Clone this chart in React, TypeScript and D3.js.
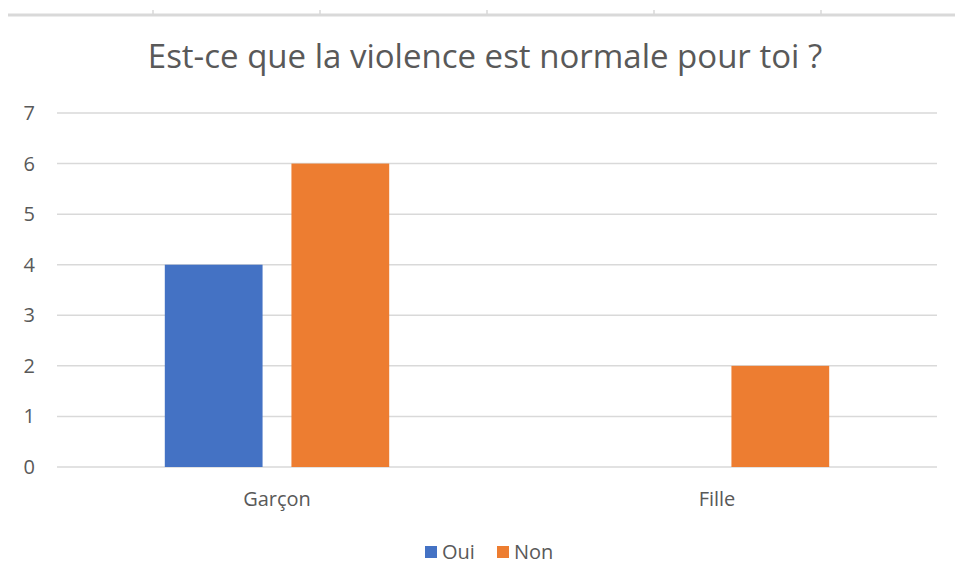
import { useEffect, useRef } from 'react';
import * as d3 from 'd3';

const categories = ['Garçon', 'Fille'];
const seriesNames = ['Oui', 'Non'];
const seriesColors = ['#4472C4', '#ED7D31'];
const oui = [4, 0];
const non = [6, 2];
const yTicks = [0, 1, 2, 3, 4, 5, 6, 7];
const topTicks = [1, 2, 3, 4, 5];

const W = 955;
const H = 588;
const FONT = '"Open Sans", "Noto Sans", sans-serif';

export default function App() {
  const svgRef = useRef<SVGSVGElement | null>(null);

  useEffect(() => {
    const svg = d3.select(svgRef.current);
    svg.selectAll('*').remove();

    // bande grise en haut (bord du graphique précédent)
    const topX = d3.scaleLinear().domain([0, 6]).range([153 - 167, 153 + 167 * 5]);
    svg.append('line')
      .attr('x1', 8).attr('x2', W).attr('y1', 15).attr('y2', 15)
      .attr('stroke', '#d9d9d9').attr('stroke-width', 3);
    svg.selectAll('.tt').data(topTicks).enter().append('line')
      .attr('x1', d => topX(d)).attr('x2', d => topX(d))
      .attr('y1', 10).attr('y2', 14)
      .attr('stroke', '#d9d9d9').attr('stroke-width', 1.5);

    // titre
    svg.append('text')
      .attr('x', 485).attr('y', 68)
      .attr('text-anchor', 'middle')
      .attr('font-family', FONT).attr('font-size', 33)
      .attr('fill', '#595959')
      .text('Est-ce que la violence est normale pour toi ?');

    const left = 57, right = 937, top = 113, bottom = 467;

    const y = d3.scaleLinear().domain([0, 7]).range([bottom, top]);
    const x0 = d3.scaleBand().domain(categories).range([left, right]).paddingInner(0.49).paddingOuter(0.245);
    const x1 = d3.scaleBand().domain(seriesNames).range([0, x0.bandwidth()]).paddingInner(0.228);

    // grille
    svg.selectAll('.grid').data(yTicks).enter().append('line')
      .attr('x1', left).attr('x2', right)
      .attr('y1', d => y(d)).attr('y2', d => y(d))
      .attr('stroke', '#d9d9d9').attr('stroke-width', 1.5);

    // étiquettes Y
    svg.selectAll('.yl').data(yTicks).enter().append('text')
      .attr('x', 35).attr('y', d => y(d) + 7)
      .attr('text-anchor', 'end')
      .attr('font-family', FONT).attr('font-size', 20)
      .attr('fill', '#595959')
      .text(d => d);

    // barres
    const values = [oui, non];
    categories.forEach((c, ci) => {
      seriesNames.forEach((s, si) => {
        const v = values[si][ci];
        if (!v) return;
        svg.append('rect')
          .attr('x', (x0(c) ?? 0) + (x1(s) ?? 0))
          .attr('width', x1.bandwidth())
          .attr('y', y(v))
          .attr('height', y(0) - y(v))
          .attr('fill', seriesColors[si]);
      });
    });

    // étiquettes X
    svg.selectAll('.xl').data(categories).enter().append('text')
      .attr('x', d => (x0(d) ?? 0) + x0.bandwidth() / 2)
      .attr('y', 506)
      .attr('text-anchor', 'middle')
      .attr('font-family', FONT).attr('font-size', 20)
      .attr('fill', '#595959')
      .text(d => d);

    // légende
    const legendX = [425, 497];
    seriesNames.forEach((s, i) => {
      svg.append('rect')
        .attr('x', legendX[i]).attr('y', 546)
        .attr('width', 12).attr('height', 12)
        .attr('fill', seriesColors[i]);
      svg.append('text')
        .attr('x', legendX[i] + 17).attr('y', 559)
        .attr('font-family', FONT).attr('font-size', 20)
        .attr('fill', '#595959')
        .text(s);
    });
  }, []);

  return (
    <svg
      ref={svgRef}
      width={W}
      height={H}
      style={{ position: 'absolute', left: 0, top: 0, background: '#fff' }}
    />
  );
}
